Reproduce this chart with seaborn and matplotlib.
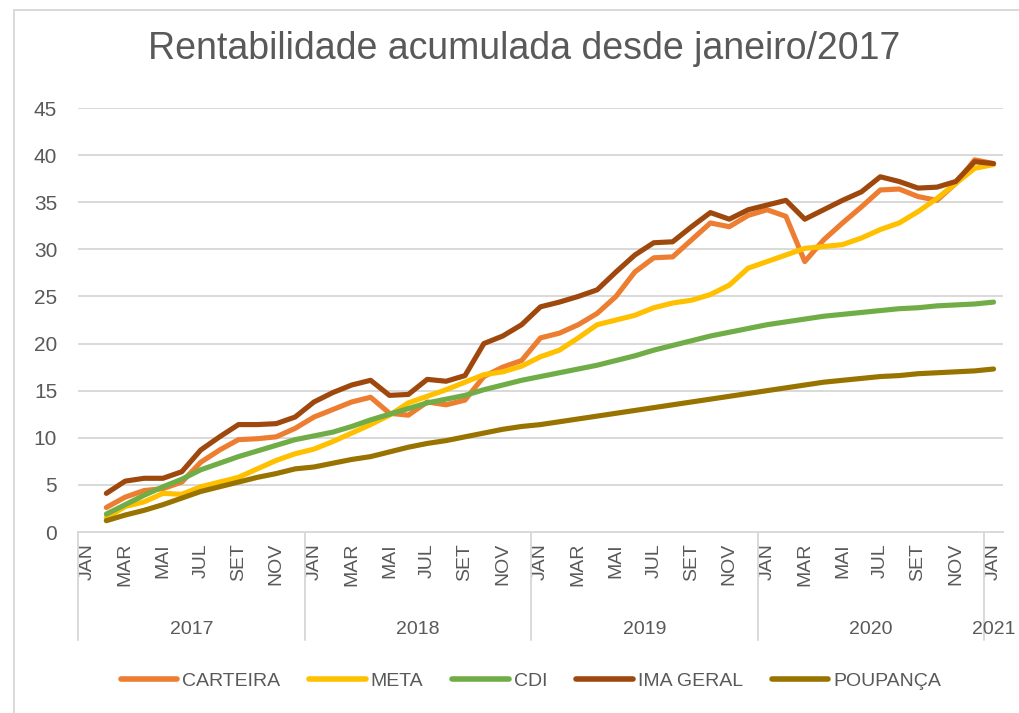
import pandas as pd
import matplotlib.pyplot as plt
import matplotlib.transforms as mtransforms
from matplotlib.lines import Line2D
import seaborn as sns

# Categorias do eixo: JAN/2017 a JAN/2021 (49 meses); series comecam em FEV/2017
meses = ['JAN', 'FEV', 'MAR', 'ABR', 'MAI', 'JUN', 'JUL', 'AGO', 'SET', 'OUT', 'NOV', 'DEZ']
anos = ['2017', '2018', '2019', '2020', '2021']
categorias = [m + '/' + a for a in anos[:4] for m in meses] + ['JAN/2021']

carteira = [2.6, 3.7, 4.4, 4.6, 5.3, 7.4, 8.7, 9.8, 9.9, 10.1, 11.0, 12.2,
            13.0, 13.8, 14.3, 12.6, 12.4, 13.8, 13.5, 14.0, 16.5, 17.5, 18.2, 20.6,
            21.1, 22.0, 23.2, 25.0, 27.6, 29.1, 29.2, 31.0, 32.8, 32.4, 33.6, 34.2,
            33.5, 28.7, 31.0, 32.8, 34.5, 36.3, 36.4, 35.6, 35.2, 37.0, 39.5, 39.1]
meta = [1.5, 2.7, 3.2, 4.1, 4.0, 4.8, 5.3, 5.8, 6.7, 7.6, 8.3, 8.8,
        9.6, 10.5, 11.4, 12.4, 13.7, 14.4, 15.1, 15.9, 16.7, 17.0, 17.6, 18.6,
        19.3, 20.6, 22.0, 22.5, 23.0, 23.8, 24.3, 24.6, 25.2, 26.2, 28.0, 28.7,
        29.4, 30.1, 30.3, 30.5, 31.2, 32.1, 32.8, 34.0, 35.4, 37.0, 38.6, 39.0]
cdi = [1.9, 2.9, 3.9, 4.8, 5.6, 6.6, 7.3, 8.0, 8.6, 9.2, 9.8, 10.2,
       10.6, 11.2, 11.9, 12.5, 13.1, 13.7, 14.1, 14.5, 15.1, 15.6, 16.1, 16.5,
       16.9, 17.3, 17.7, 18.2, 18.7, 19.3, 19.8, 20.3, 20.8, 21.2, 21.6, 22.0,
       22.3, 22.6, 22.9, 23.1, 23.3, 23.5, 23.7, 23.8, 24.0, 24.1, 24.2, 24.4]
ima_geral = [4.1, 5.4, 5.7, 5.7, 6.4, 8.7, 10.1, 11.4, 11.4, 11.5, 12.2, 13.8,
             14.8, 15.6, 16.1, 14.5, 14.6, 16.2, 16.0, 16.6, 20.0, 20.8, 22.0, 23.9,
             24.4, 25.0, 25.7, 27.6, 29.4, 30.7, 30.8, 32.4, 33.9, 33.2, 34.2, 34.7,
             35.2, 33.2, 34.2, 35.2, 36.1, 37.7, 37.2, 36.5, 36.6, 37.2, 39.3, 39.1]
poupanca = [1.2, 1.8, 2.3, 2.9, 3.6, 4.3, 4.8, 5.3, 5.8, 6.2, 6.7, 6.9,
            7.3, 7.7, 8.0, 8.5, 9.0, 9.4, 9.7, 10.1, 10.5, 10.9, 11.2, 11.4,
            11.7, 12.0, 12.3, 12.6, 12.9, 13.2, 13.5, 13.8, 14.1, 14.4, 14.7, 15.0,
            15.3, 15.6, 15.9, 16.1, 16.3, 16.5, 16.6, 16.8, 16.9, 17.0, 17.1, 17.3]

series = {'CARTEIRA': carteira, 'META': meta, 'CDI': cdi,
          'IMA GERAL': ima_geral, 'POUPANÇA': poupanca}
cores = {'CARTEIRA': '#ED7D31', 'META': '#FFC000', 'CDI': '#70AD47',
         'IMA GERAL': '#9E480E', 'POUPANÇA': '#997300'}

# formato longo para o seaborn
linhas = []
for nome, valores in series.items():
    for k, v in enumerate(valores):
        linhas.append({'serie': nome, 'pos': k + 1, 'mes': categorias[k + 1], 'valor': v})
df = pd.DataFrame(linhas)

sns.set_theme(style='white')
plt.rcParams['font.family'] = ['Liberation Sans', 'DejaVu Sans']
cinza = '#595959'

fig = plt.figure(figsize=(10.2, 7.13), dpi=100)
ax = fig.add_axes([78 / 1020, 1 - 532 / 713, (1003 - 78) / 1020, (532 - 108) / 713])

sns.lineplot(data=df, x='pos', y='valor', hue='serie', hue_order=list(series),
             palette=cores, linewidth=3.7, legend=False, sort=False, ax=ax,
             solid_capstyle='round', solid_joinstyle='round')

ax.set_xlim(-0.5, len(categorias) - 0.5)
ax.set_ylim(0, 45)
ax.set_yticks(range(0, 46, 5))
ax.yaxis.grid(True, color='#D9D9D9', linewidth=1.4)
ax.set_axisbelow(True)
for lado in ['top', 'right', 'left']:
    ax.spines[lado].set_visible(False)
ax.spines['bottom'].set_color('#D9D9D9')
ax.spines['bottom'].set_linewidth(1.4)

ax.set_xticks(range(0, len(categorias), 2))
ax.set_xticklabels([c.split('/')[0] for c in categorias[::2]], rotation=90)
ax.tick_params(axis='x', length=0, pad=8, labelsize=14, labelcolor=cinza)
ax.tick_params(axis='y', length=0, pad=15, labelsize=15, labelcolor=cinza)
ax.set_xlabel('')
ax.set_ylabel('')

# nivel dos anos no eixo
trans = mtransforms.blended_transform_factory(ax.transData, ax.transAxes)
for xs in [-0.5, 11.5, 23.5, 35.5, 47.5]:
    ax.plot([xs, xs], [0, -0.255], transform=trans, color='#D9D9D9',
            linewidth=1.4, clip_on=False)
for j, ano in enumerate(anos):
    centro = 5.5 + 12 * j if j < 4 else 48
    ax.text(centro, -0.231, ano, transform=trans, ha='center', va='center',
            fontsize=14, color=cinza)

fig.text(524 / 1020, 1 - 49 / 713, 'Rentabilidade acumulada desde janeiro/2017',
         ha='center', va='center', fontsize=27, color=cinza)

handles = [Line2D([0], [0], color=cores[n], linewidth=4, solid_capstyle='round')
           for n in series]
fig.legend(handles, list(series), loc='center', bbox_to_anchor=(531 / 1020, 1 - 681 / 713),
           ncol=5, frameon=False, fontsize=14, handlelength=2.9, handletextpad=0.25,
           columnspacing=1.5, labelcolor=cinza)

# moldura do grafico (visivel em cima e a esquerda)
fig.add_artist(Line2D([14 / 1020, 14 / 1020], [0, 1 - 10 / 713], color='#D9D9D9',
                      linewidth=1.4, transform=fig.transFigure))
fig.add_artist(Line2D([14 / 1020, 1], [1 - 10 / 713, 1 - 10 / 713], color='#D9D9D9',
                      linewidth=1.4, transform=fig.transFigure))

plt.savefig('out.png', dpi=100)
plt.close()
